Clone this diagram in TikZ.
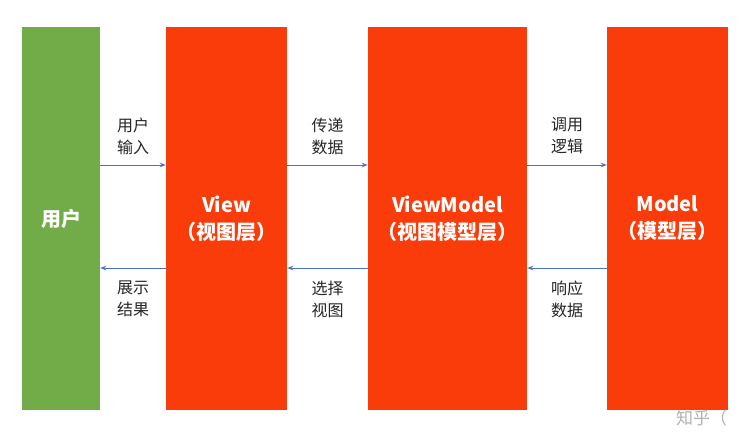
\documentclass[tikz,border=0pt]{standalone}
\usepackage{fontspec}
\setmainfont{Noto Sans CJK SC}
\usetikzlibrary{arrows.meta}
\definecolor{ured}{HTML}{FA3C0A}
\definecolor{ugreen}{HTML}{72AC48}
\definecolor{ablue}{HTML}{4A72C4}
\definecolor{lbl}{HTML}{262626}
\tikzset{
  layer/.style={fill=#1, draw=none, text=white, font=\fontsize{20}{27}\selectfont\bfseries, align=center, inner sep=0pt},
  lab/.style={text=lbl, font=\fontsize{16}{22}\selectfont, align=center, inner sep=0pt},
  conn/.style={draw=ablue, line width=1pt, -{Stealth[length=6pt,width=4.5pt]}}
}
\begin{document}
\begin{tikzpicture}[x=1pt,y=-1pt]
\useasboundingbox (0,0) rectangle (742,442);
\fill[white] (0,0) rectangle (742,442);
% boxes
\node[layer=ugreen, minimum width=78pt, minimum height=383pt] (user) at (61,218.5) {用户};
\node[layer=ured, minimum width=121pt, minimum height=383pt] (view) at (226.5,218.5) {View\\（视图层）};
\node[layer=ured, minimum width=159pt, minimum height=383pt] (vm) at (447.5,218.5) {ViewModel\\（视图模型层）};
\node[layer=ured, minimum width=121pt, minimum height=383pt] (model) at (667.5,218.5) {Model\\（模型层）};
% anchor coordinates
\coordinate (u1) at (user.east |- 0,165);
\coordinate (v1) at (view.west |- 0,165);
\coordinate (v2) at (view.east |- 0,165);
\coordinate (m1) at (vm.west |- 0,165);
\coordinate (m2) at (vm.east |- 0,165);
\coordinate (d1) at (model.west |- 0,165);
\coordinate (u2) at (user.east |- 0,268);
\coordinate (w1) at (view.west |- 0,268);
\coordinate (w2) at (view.east |- 0,268);
\coordinate (n1) at (vm.west |- 0,268);
\coordinate (n2) at (vm.east |- 0,268);
\coordinate (e1) at (model.west |- 0,268);
% connectors
\draw[conn] (u1) -- (v1);
\draw[conn] (v2) -- (m1);
\draw[conn] (m2) -- (d1);
\draw[conn] (w1) -- (u2);
\draw[conn] (n1) -- (w2);
\draw[conn] (e1) -- (n2);
% labels
\node[lab] (l1) at (133,136) {用户\\输入};
\node[lab] (l2) at (327.5,136) {传递\\数据};
\node[lab] (l3) at (567,136) {调用\\逻辑};
\node[lab] (l4) at (133,299) {展示\\结果};
\node[lab] (l5) at (327.5,299) {选择\\视图};
\node[lab] (l6) at (567,299) {响应\\数据};
% watermark
\node[anchor=west, text=black!30, font=\fontsize{17}{20}\selectfont, inner sep=0pt] (wm) at (676,418) {知乎（};
\end{tikzpicture}
\end{document}
